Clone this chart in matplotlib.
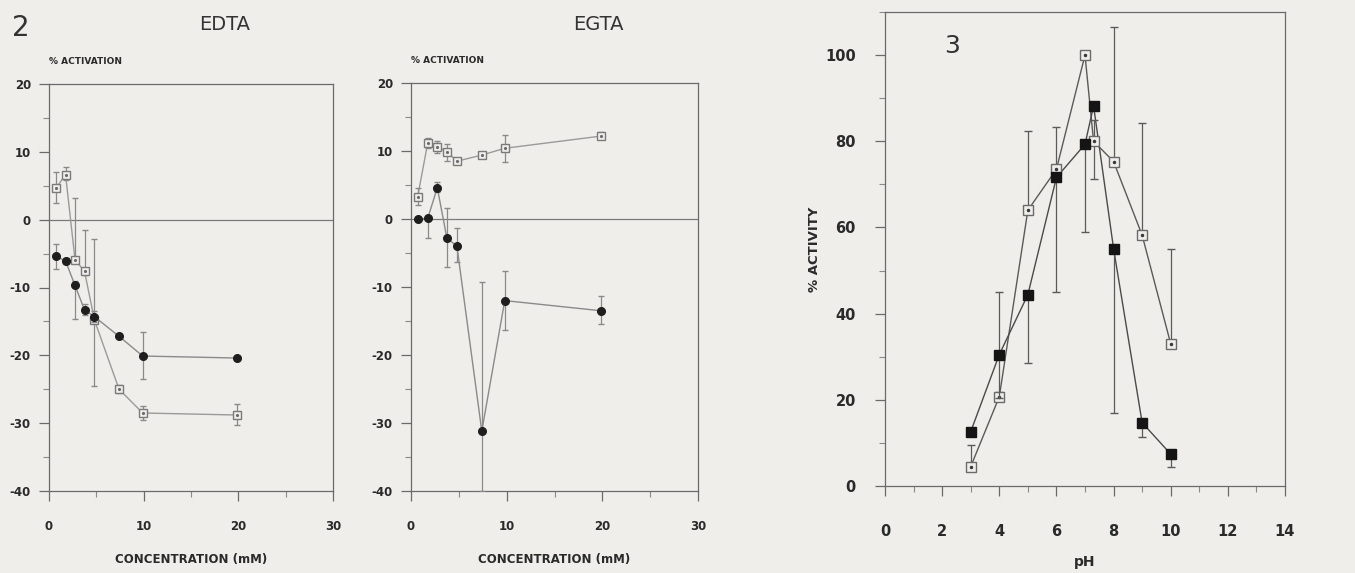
import matplotlib
matplotlib.use("Agg")
import matplotlib.pyplot as plt
import numpy as np
from matplotlib.ticker import MultipleLocator

plt.rcParams["axes.unicode_minus"] = False

# ---------------- data ----------------
# Panel 2 left: EDTA
edta_x = [0.75, 1.75, 2.75, 3.75, 4.8, 7.4, 9.9, 19.9]
edta_filled = [-5.4, -6.1, -9.7, -13.3, -14.3, -17.2, -20.1, -20.4]
edta_filled_lo = [1.8, 0.5, 5.0, 0.8, 0.8, 0.3, 3.4, 0.3]
edta_filled_hi = [1.8, 0.5, 0.6, 0.8, 0.8, 0.3, 3.5, 0.3]
edta_open = [4.7, 6.6, -5.9, -7.6, -14.8, -25.0, -28.5, -28.8]
edta_open_lo = [2.2, 0.8, 0.5, 0.5, 9.7, 0.6, 1.0, 1.5]
edta_open_hi = [2.3, 1.2, 9.1, 6.1, 11.9, 0.6, 1.0, 1.6]

# Panel 2 right: EGTA
egta_x = [0.7, 1.75, 2.75, 3.75, 4.8, 7.4, 9.8, 19.9]
egta_filled = [0.0, 0.1, 4.6, -2.8, -4.0, -31.2, -12.0, -13.5]
egta_filled_lo = [0.3, 2.9, 0.6, 4.2, 2.3, 8.8, 4.3, 2.0]
egta_filled_hi = [0.3, 0.4, 0.9, 4.4, 2.7, 22.0, 4.3, 2.2]
egta_open = [3.3, 11.2, 10.6, 9.9, 8.5, 9.4, 10.4, 12.2]
egta_open_lo = [1.3, 0.7, 0.9, 1.4, 0.3, 0.2, 2.0, 0.5]
egta_open_hi = [1.2, 0.7, 0.9, 1.1, 0.3, 0.2, 2.0, 0.6]

# Panel 3: pH profile
ph_x = [3, 4, 5, 6, 7, 7.3, 8, 9, 10]
ph_filled = [12.6, 30.5, 44.4, 71.6, 79.3, 88.2, 55.1, 14.7, 7.4]
ph_filled_lo = [0.5, 10.0, 15.8, 26.6, 20.3, 0.5, 38.1, 3.4, 3.0]
ph_filled_hi = [0.5, 14.5, 0.5, 0.5, 0.5, 0.5, 0.5, 0.5, 0.5]
ph_open = [4.5, 20.7, 64.0, 73.5, 100.0, 80.0, 75.3, 58.2, 33.0]
ph_open_lo = [1.0, 0.8, 0.5, 0.5, 0.5, 8.8, 0.5, 0.5, 0.8]
ph_open_hi = [5.0, 1.0, 18.3, 9.7, 0.5, 5.0, 31.2, 26.0, 22.1]

# ---------------- figure ----------------
BG = "#efeeea"
INK = "#2a2a2a"

fig = plt.figure(figsize=(13.55, 5.73), dpi=100, facecolor=BG)


def style_axes(ax):
    ax.set_facecolor(BG)
    for s in ax.spines.values():
        s.set_color("#6a6a6a")
        s.set_linewidth(0.9)
    ax.tick_params(which="major", direction="out", length=7, width=0.9,
                   colors="#6a6a6a", labelcolor=INK)
    ax.tick_params(which="minor", direction="out", length=4, width=0.8,
                   colors="#8a8a8a")


def conc_panel(rect, x, yf, yf_lo, yf_hi, yo, yo_lo, yo_hi):
    ax = fig.add_axes(rect)
    style_axes(ax)
    ax.set_xlim(0, 30)
    ax.set_ylim(-40, 20)
    ax.xaxis.set_major_locator(MultipleLocator(10))
    ax.xaxis.set_minor_locator(MultipleLocator(5))
    ax.yaxis.set_major_locator(MultipleLocator(10))
    ax.yaxis.set_minor_locator(MultipleLocator(5))
    ax.tick_params(labelsize=8.5)
    ax.tick_params(axis="x", pad=14)
    ax.tick_params(axis="y", pad=6)
    for lab in ax.get_xticklabels() + ax.get_yticklabels():
        lab.set_fontweight("bold")
    ax.axhline(0, color="#7a7a7a", lw=0.9, zorder=1)
    ax.errorbar(x, yo, yerr=[yo_lo, yo_hi], fmt="s", ms=5.5, mfc=BG,
                mec="#7a7a7a", mew=1.0, ecolor="#8a8a8a", elinewidth=0.9,
                capsize=2.5, zorder=3)
    ax.plot(x, yo, color="#9a9a9a", lw=1.0, zorder=2)
    ax.plot(x, yo, ls="none", marker=".", ms=2.5, color="#6a6a6a", zorder=4)
    ax.errorbar(x, yf, yerr=[yf_lo, yf_hi], fmt="o", ms=5.5, mfc="#1e1e1e",
                mec="#1e1e1e", ecolor="#8a8a8a", elinewidth=0.9,
                capsize=2.5, zorder=5)
    ax.plot(x, yf, color="#8a8a8a", lw=1.0, zorder=2)
    ax.set_xlabel("CONCENTRATION (mM)", fontsize=8.5, fontweight="bold",
                  color=INK, labelpad=14)
    ax.text(0.0, 1.045, "% ACTIVATION", transform=ax.transAxes,
            fontsize=6.5, fontweight="bold", color=INK, ha="left",
            va="bottom")
    return ax


ax1 = conc_panel([49 / 1355, 1 - 491 / 573, 284 / 1355, 407 / 573],
                 edta_x, edta_filled, edta_filled_lo, edta_filled_hi,
                 edta_open, edta_open_lo, edta_open_hi)
ax2 = conc_panel([411 / 1355, 1 - 491 / 573, 287 / 1355, 408 / 573],
                 egta_x, egta_filled, egta_filled_lo, egta_filled_hi,
                 egta_open, egta_open_lo, egta_open_hi)

fig.text(12 / 1355, 1 - 28 / 573, "2", fontsize=20, color="#333333",
         ha="left", va="center")
fig.text(225 / 1355, 1 - 25 / 573, "EDTA", fontsize=14, color="#333333",
         ha="center", va="center")
fig.text(598 / 1355, 1 - 25 / 573, "EGTA", fontsize=14, color="#333333",
         ha="center", va="center")

# pH panel
ax3 = fig.add_axes([885 / 1355, 1 - 486 / 573, 400 / 1355, 474 / 573])
style_axes(ax3)
ax3.set_xlim(0, 14)
ax3.set_ylim(0, 110)
ax3.xaxis.set_major_locator(MultipleLocator(2))
ax3.xaxis.set_minor_locator(MultipleLocator(1))
ax3.yaxis.set_major_locator(MultipleLocator(20))
ax3.yaxis.set_minor_locator(MultipleLocator(10))
ax3.tick_params(labelsize=10.5)
ax3.tick_params(axis="x", pad=20)
ax3.tick_params(axis="y", pad=14)
for lab in ax3.get_xticklabels() + ax3.get_yticklabels():
    lab.set_fontweight("bold")
ax3.errorbar(ph_x, ph_open, yerr=[ph_open_lo, ph_open_hi], fmt="s", ms=7,
             mfc=BG, mec="#6a6a6a", mew=1.0, ecolor="#5a5a5a",
             elinewidth=0.9, capsize=3, zorder=3)
ax3.plot(ph_x, ph_open, color="#5a5a5a", lw=1.0, zorder=2)
ax3.plot(ph_x, ph_open, ls="none", marker=".", ms=3, color="#3a3a3a",
         zorder=4)
ax3.errorbar(ph_x, ph_filled, yerr=[ph_filled_lo, ph_filled_hi], fmt="s",
             ms=7.5, mfc="#151515", mec="#151515", ecolor="#5a5a5a",
             elinewidth=0.9, capsize=3, zorder=5)
ax3.plot(ph_x, ph_filled, color="#4a4a4a", lw=1.0, zorder=2)
ax3.set_xlabel("pH", fontsize=10, fontweight="bold", color=INK, labelpad=12)
ax3.set_ylabel("% ACTIVITY", fontsize=9.5, fontweight="bold", color=INK,
               labelpad=3)
ax3.text(2.35, 102, "3", fontsize=18, color="#333333", ha="center",
         va="center")

fig.savefig("out.png", dpi=100, facecolor=BG)
